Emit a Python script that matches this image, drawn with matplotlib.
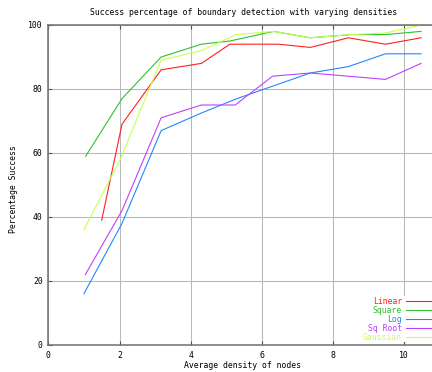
import matplotlib
matplotlib.use("Agg")
import matplotlib.pyplot as plt

title = "Success percentage of boundary detection with varying densities"
xlabel = "Average density of nodes"
ylabel = "Percentage Success"

linear_x = [1.5, 2.07, 3.17, 4.3, 5.1, 6.46, 7.36, 8.43, 9.47, 10.47]
linear_y = [39, 69, 86, 88, 94, 94, 93, 96, 94, 96]

square_x = [1.05, 2.07, 3.17, 4.3, 5.1, 6.33, 7.36, 8.5, 9.47, 10.47]
square_y = [59, 77, 90, 94, 95, 98, 96, 97, 97, 98]

log_x = [1.0, 2.07, 3.17, 4.3, 5.3, 6.33, 7.36, 8.43, 9.47, 10.47]
log_y = [16, 38, 67, 72.5, 77, 81, 85, 87, 91, 91]

sqroot_x = [1.04, 2.07, 3.17, 4.3, 5.25, 6.3, 7.36, 8.43, 9.47, 10.47]
sqroot_y = [22, 42, 71, 75, 75, 84, 85, 84, 83, 88]

gauss_x = [1.0, 2.02, 3.17, 4.3, 5.28, 6.33, 7.36, 8.5, 9.47, 10.47]
gauss_y = [36, 58, 89, 92, 97, 98, 96, 97, 97.5, 100]

series = [
    ("Linear", linear_x, linear_y, "#ff2020"),
    ("Square", square_x, square_y, "#30c030"),
    ("Log", log_x, log_y, "#2088ff"),
    ("Sq Root", sqroot_x, sqroot_y, "#c040ff"),
    ("Gaussian", gauss_x, gauss_y, "#c8ff50"),
]

xticks = [0, 2, 4, 6, 8, 10]
yticks = [0, 20, 40, 60, 80, 100]

FONT = "DejaVu Sans Mono"
FS = 5.9

fig = plt.figure(figsize=(4.32, 3.72), dpi=100)
ax = fig.add_axes([48.3 / 432, 27 / 372, 1 - 48.3 / 432, 320 / 372])

for name, xs, ys, c in series:
    ax.plot(xs, ys, color=c, lw=0.8, label=name)

ax.set_xlim(0, (432 - 48.3) / 35.6)
ax.set_ylim(0, 100)
ax.set_xticks(xticks)
ax.set_yticks(yticks)
ax.set_xticklabels([str(t) for t in xticks], fontfamily=FONT, fontsize=FS)
ax.set_yticklabels([str(t) for t in yticks], fontfamily=FONT, fontsize=FS)
ax.tick_params(axis="both", direction="in", length=3, width=0.8, color="#505050",
               top=True, pad=4)
ax.grid(True, color="#b8b8b8", lw=0.75)
ax.set_axisbelow(True)
for s in ["left", "bottom", "top"]:
    ax.spines[s].set_color("#707070")
    ax.spines[s].set_linewidth(1.1)
ax.spines["right"].set_visible(False)

fig.text(244 / 432, 1 - 12.3 / 372, title, ha="center", va="center",
         fontfamily=FONT, fontsize=FS)
fig.text(243 / 432, 1 - 366 / 372, xlabel, ha="center", va="center",
         fontfamily=FONT, fontsize=FS)
fig.text(14 / 432, 1 - 189 / 372, ylabel, ha="center", va="center",
         rotation=90, fontfamily=FONT, fontsize=FS)

leg = ax.legend(loc="lower right", bbox_to_anchor=(1.0, 0.008), markerfirst=False,
                frameon=True, facecolor="white", edgecolor="none", framealpha=1,
                fancybox=False, labelcolor="linecolor",
                prop={"family": FONT, "size": FS},
                handlelength=3.1, handletextpad=0.45, labelspacing=0.0,
                borderpad=0.1, borderaxespad=0.0)

fig.savefig("out.png", dpi=100, facecolor="white")
